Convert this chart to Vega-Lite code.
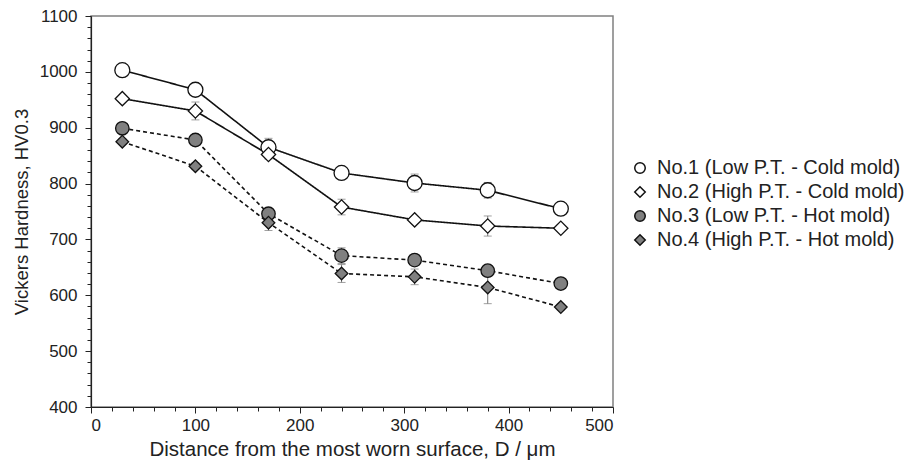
{
  "$schema": "https://vega.github.io/schema/vega-lite/v6.json",
  "width": 522,
  "height": 391,
  "padding": {"left": 12, "top": 7, "right": 5, "bottom": 5},
  "background": "white",
  "config": {
    "font": "Liberation Sans",
    "view": {"stroke": "#808080", "strokeWidth": 1.5},
    "axis": {
      "grid": false,
      "domainColor": "#222",
      "domainWidth": 1.2,
      "tickColor": "#222",
      "labelFont": "Liberation Sans",
      "labelFontSize": 17,
      "labelColor": "#222",
      "titleFont": "Liberation Sans",
      "titleFontWeight": "normal",
      "titleColor": "#222"
    },
    "legend": {
      "labelFont": "Liberation Sans",
      "labelFontSize": 20,
      "labelColor": "#222",
      "labelLimit": 400,
      "symbolSize": 110,
      "rowPadding": 4,
      "labelOffset": 7
    }
  },
  "data": {
    "values": [
      {"s": "No.1 (Low P.T. - Cold mold)", "d": 30, "hv": 1003, "err": 5},
      {"s": "No.1 (Low P.T. - Cold mold)", "d": 100, "hv": 968, "err": 8},
      {"s": "No.1 (Low P.T. - Cold mold)", "d": 170, "hv": 865, "err": 16},
      {"s": "No.1 (Low P.T. - Cold mold)", "d": 240, "hv": 819, "err": 6},
      {"s": "No.1 (Low P.T. - Cold mold)", "d": 310, "hv": 801, "err": 16},
      {"s": "No.1 (Low P.T. - Cold mold)", "d": 380, "hv": 788, "err": 14},
      {"s": "No.1 (Low P.T. - Cold mold)", "d": 450, "hv": 755, "err": 6},
      {"s": "No.2 (High P.T. - Cold mold)", "d": 30, "hv": 952, "err": 5},
      {"s": "No.2 (High P.T. - Cold mold)", "d": 100, "hv": 930, "err": 16},
      {"s": "No.2 (High P.T. - Cold mold)", "d": 170, "hv": 852, "err": 8},
      {"s": "No.2 (High P.T. - Cold mold)", "d": 240, "hv": 758, "err": 14},
      {"s": "No.2 (High P.T. - Cold mold)", "d": 310, "hv": 735, "err": 6},
      {"s": "No.2 (High P.T. - Cold mold)", "d": 380, "hv": 724, "err": 18},
      {"s": "No.2 (High P.T. - Cold mold)", "d": 450, "hv": 720, "err": 5},
      {"s": "No.3 (Low P.T. - Hot mold)", "d": 30, "hv": 899, "err": 5},
      {"s": "No.3 (Low P.T. - Hot mold)", "d": 100, "hv": 878, "err": 6},
      {"s": "No.3 (Low P.T. - Hot mold)", "d": 170, "hv": 746, "err": 10},
      {"s": "No.3 (Low P.T. - Hot mold)", "d": 240, "hv": 671, "err": 14},
      {"s": "No.3 (Low P.T. - Hot mold)", "d": 310, "hv": 663, "err": 8},
      {"s": "No.3 (Low P.T. - Hot mold)", "d": 380, "hv": 644, "err": 10},
      {"s": "No.3 (Low P.T. - Hot mold)", "d": 450, "hv": 621, "err": 5},
      {"s": "No.4 (High P.T. - Hot mold)", "d": 30, "hv": 875, "err": 5},
      {"s": "No.4 (High P.T. - Hot mold)", "d": 100, "hv": 831, "err": 6},
      {"s": "No.4 (High P.T. - Hot mold)", "d": 170, "hv": 730, "err": 14},
      {"s": "No.4 (High P.T. - Hot mold)", "d": 240, "hv": 639, "err": 16},
      {"s": "No.4 (High P.T. - Hot mold)", "d": 310, "hv": 633, "err": 14},
      {"s": "No.4 (High P.T. - Hot mold)", "d": 380, "hv": 614, "err": 29},
      {"s": "No.4 (High P.T. - Hot mold)", "d": 450, "hv": 579, "err": 5}
    ]
  },
  "encoding": {
    "x": {
      "field": "d",
      "type": "quantitative",
      "scale": {"domain": [0, 500], "nice": false},
      "axis": {
        "title": "Distance from the most worn surface, D / μm",
        "titleFontSize": 20.5,
        "values": [0,20,40,60,80,100,120,140,160,180,200,220,240,260,280,300,320,340,360,380,400,420,440,460,480,500],
        "labelExpr": "datum.value % 100 === 0 ? datum.label : ''",
        "tickSize": {"condition": {"test": "datum.value % 100 === 0", "value": 6}, "value": 4},
        "labelPadding": 4,
        "titlePadding": 6
      }
    },
    "y": {
      "field": "hv",
      "type": "quantitative",
      "scale": {"domain": [400, 1100], "nice": false},
      "axis": {
        "title": "Vickers Hardness, HV0.3",
        "titleFontSize": 18.5,
        "format": "d",
        "values": [400,420,440,460,480,500,520,540,560,580,600,620,640,660,680,700,720,740,760,780,800,820,840,860,880,900,920,940,960,980,1000,1020,1040,1060,1080,1100],
        "labelExpr": "datum.value % 100 === 0 ? datum.label : ''",
        "tickSize": {"condition": {"test": "datum.value % 100 === 0", "value": 6}, "value": 4},
        "labelPadding": 8,
        "titlePadding": 8
      }
    }
  },
  "layer": [
    {
      "mark": {"type": "line", "color": "#111"},
      "encoding": {
        "detail": {"field": "s"},
        "strokeDash": {
          "field": "s",
          "type": "nominal",
          "scale": {"range": [[1, 0], [1, 0], [4, 3], [4, 3]]},
          "legend": null
        },
        "strokeWidth": {
          "field": "s",
          "type": "nominal",
          "scale": {"range": [1.6, 1.6, 1.3, 1.3]},
          "legend": null
        }
      }
    },
    {
      "mark": {"type": "errorbar", "ticks": {"color": "#777", "size": 8}, "rule": {"color": "#777", "strokeWidth": 1}},
      "encoding": {
        "yError": {"field": "err"},
        "detail": {"field": "s"}
      }
    },
    {
      "mark": {"type": "point", "filled": true, "stroke": "#111", "strokeWidth": 1.3, "opacity": 1},
      "encoding": {
        "shape": {
          "field": "s",
          "type": "nominal",
          "scale": {"range": ["circle", "diamond", "circle", "diamond"]},
          "legend": {"title": null, "orient": "none", "legendX": 539, "legendY": 142}
        },
        "fill": {
          "field": "s",
          "type": "nominal",
          "scale": {"range": ["white", "white", "#808080", "#808080"]},
          "legend": {"title": null, "orient": "none", "legendX": 539, "legendY": 142}
        },
        "size": {
          "field": "s",
          "type": "nominal",
          "scale": {"range": [225, 160, 225, 160]},
          "legend": null
        }
      }
    }
  ],
  "resolve": {"scale": {"strokeWidth": "independent", "size": "independent"}}
}
